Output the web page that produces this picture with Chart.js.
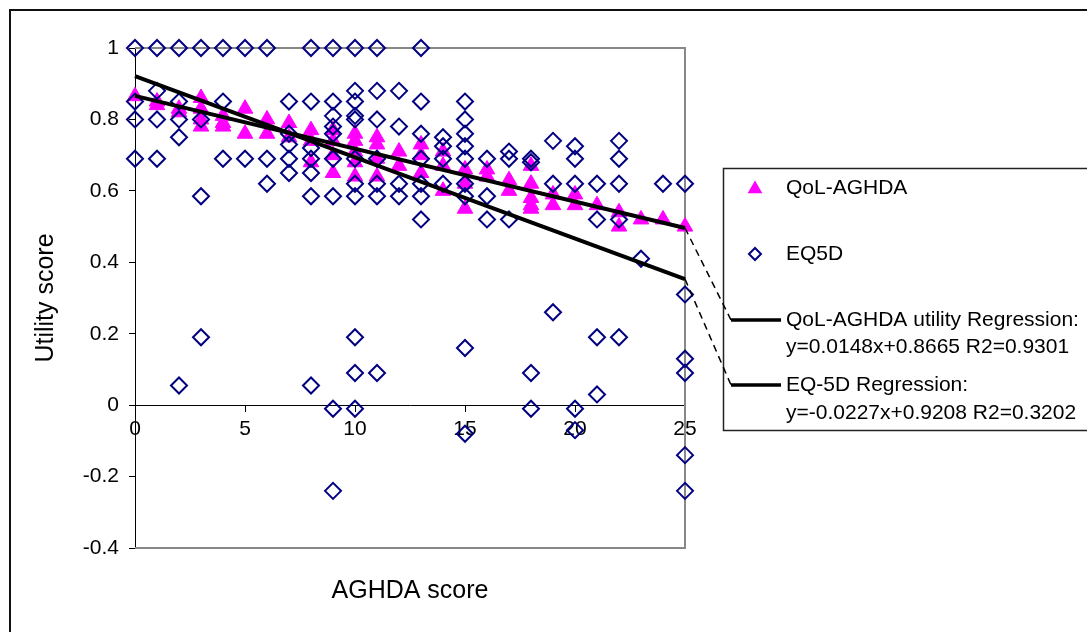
<!DOCTYPE html>
<html>
<head>
<meta charset="utf-8">
<script src="https://cdn.jsdelivr.net/npm/chart.js@4.4.1/dist/chart.umd.min.js"></script>
<style>
  html, body { margin: 0; padding: 0; background: #fff; }
  #wrap { width: 1087px; height: 632px; position: relative; }
</style>
</head>
<body>
<div id="wrap"><canvas id="myChart"></canvas></div>
<script>
// data

const qolX = [0, 1, 1, 2, 2, 3, 3, 3, 3, 4, 4, 4, 5, 5, 6, 6, 7, 7, 8, 8, 8,
  9, 9, 9, 9, 10, 10, 10, 10, 10, 11, 11, 11, 11, 12, 12, 13, 13, 13,
  14, 14, 14, 15, 15, 15, 16, 16, 17, 17, 18, 18, 18, 18, 18,
  19, 19, 20, 20, 21, 22, 22, 23, 24, 25]
const qolY = [0.865, 0.85, 0.84, 0.83, 0.82, 0.86, 0.83, 0.80, 0.78, 0.81, 0.79, 0.78, 0.83, 0.76, 0.80, 0.76, 0.79, 0.75, 0.77, 0.74, 0.68,
  0.77, 0.74, 0.70, 0.65, 0.76, 0.74, 0.71, 0.68, 0.64, 0.75, 0.73, 0.69, 0.64, 0.71, 0.67, 0.73, 0.70, 0.65,
  0.71, 0.67, 0.60, 0.66, 0.62, 0.55, 0.66, 0.64, 0.63, 0.60, 0.67, 0.62, 0.58, 0.56, 0.55,
  0.59, 0.56, 0.59, 0.56, 0.56, 0.54, 0.50, 0.52, 0.52, 0.50]

const eqX = [0, 0, 0, 0, 1, 1, 1, 1, 2, 2, 2, 2, 2, 3, 3, 3, 3, 4, 4, 4, 5, 5, 6, 6, 6,
  7, 7, 7, 7, 7, 8, 8, 8, 8, 8, 8, 8, 9, 9, 9, 9, 9, 9, 9, 9, 9,
  10, 10, 10, 10, 10, 10, 10, 10, 10, 10, 10, 11, 11, 11, 11, 11, 11, 11,
  12, 12, 12, 12, 13, 13, 13, 13, 13, 13, 13, 14, 14, 14, 14,
  15, 15, 15, 15, 15, 15, 15, 15, 15, 16, 16, 16, 17, 17, 17, 18, 18, 18, 18,
  19, 19, 19, 20, 20, 20, 20, 20, 21, 21, 21, 21, 22, 22, 22, 22, 22, 23, 24,
  25, 25, 25, 25, 25, 25]
const eqY = [1, 0.85, 0.80, 0.69, 1, 0.88, 0.80, 0.69, 1, 0.85, 0.80, 0.75, 0.055, 1, 0.80, 0.585, 0.19, 1, 0.85, 0.69, 1, 0.69, 1, 0.69, 0.62,
  0.85, 0.76, 0.73, 0.69, 0.65, 1, 0.85, 0.72, 0.69, 0.65, 0.585, 0.055, 1, 0.85, 0.81, 0.78, 0.76, 0.69, 0.585, -0.01, -0.24,
  1, 0.88, 0.85, 0.81, 0.80, 0.69, 0.62, 0.585, 0.19, 0.09, -0.01, 1, 0.88, 0.80, 0.69, 0.62, 0.585, 0.09,
  0.88, 0.78, 0.62, 0.585, 1, 0.85, 0.76, 0.69, 0.62, 0.585, 0.52, 0.75, 0.725, 0.69, 0.62,
  0.85, 0.80, 0.76, 0.725, 0.69, 0.62, 0.585, 0.16, -0.08, 0.69, 0.585, 0.52, 0.71, 0.69, 0.52, 0.69, 0.68, 0.09, -0.01,
  0.74, 0.62, 0.26, 0.725, 0.69, 0.62, -0.01, -0.07, 0.62, 0.52, 0.19, 0.03, 0.74, 0.69, 0.62, 0.52, 0.19, 0.41, 0.62,
  0.62, 0.31, 0.13, 0.09, -0.14, -0.24]

// regression lines, ends at x=0 and x=25
const trendX = [0, 25]
const qolTrendY = [0.866, 0.496]
const eqTrendY = [0.921, 0.353]

const legendNames = ['QoL-AGHDA', 'EQ5D']
const trendLabels = [
  ['QoL-AGHDA utility Regression:', 'y=0.0148x+0.8665 R2=0.9301'],
  ['EQ-5D Regression:', 'y=-0.0227x+0.9208 R2=0.3202']
]
const xTitle = 'AGHDA score'
const yTitle = 'Utility score'

const toPoints = (xs, ys) => xs.map((x, i) => ({x: x, y: ys[i]}))

const FONT = '"Liberation Sans", Arial, sans-serif'
const MAGENTA = '#ff00ff'
const NAVY = '#000080'

// draws frame, legend, x title and leader lines
const extras = {
  id: 'extras',
  beforeDraw(chart) {
    const ctx = chart.ctx
    ctx.save()
    ctx.strokeStyle = '#111'
    ctx.lineWidth = 2
    ctx.beginPath()
    ctx.moveTo(10, 700)
    ctx.lineTo(10, 10)
    ctx.lineTo(1200, 10)
    ctx.stroke()
    ctx.restore()
  },
  beforeDatasetsDraw(chart) {
    const {ctx, chartArea: a} = chart
    ctx.save()
    ctx.strokeStyle = '#888'
    ctx.lineWidth = 2
    ctx.beginPath()
    ctx.moveTo(a.left, a.top)
    ctx.lineTo(a.right, a.top)
    ctx.lineTo(a.right, a.bottom)
    ctx.lineTo(a.left, a.bottom)
    ctx.stroke()
    ctx.restore()
  },
  afterDraw(chart) {
    const {ctx, chartArea: a, scales} = chart
    ctx.save()
    // x axis title
    ctx.fillStyle = '#000'
    ctx.font = '25px ' + FONT
    ctx.textAlign = 'center'
    ctx.textBaseline = 'middle'
    ctx.fillText(xTitle, (a.left + a.right) / 2, 591)

    // legend box
    ctx.strokeStyle = '#222'
    ctx.lineWidth = 1.5
    ctx.strokeRect(723.5, 168.5, 420, 262)

    // markers
    ctx.fillStyle = MAGENTA
    ctx.beginPath()
    const r = 8.5
    ctx.moveTo(755, 189 - r)
    ctx.lineTo(755 + r * Math.sin(2 * Math.PI / 3), 189 + r / 2)
    ctx.lineTo(755 - r * Math.sin(2 * Math.PI / 3), 189 + r / 2)
    ctx.closePath()
    ctx.fill()
    ctx.strokeStyle = NAVY
    ctx.lineWidth = 2
    ctx.beginPath()
    ctx.moveTo(749, 254); ctx.lineTo(755, 248); ctx.lineTo(761, 254); ctx.lineTo(755, 260)
    ctx.closePath()
    ctx.stroke()

    ctx.fillStyle = '#000'
    ctx.font = '21px ' + FONT
    ctx.textAlign = 'left'
    ctx.fillText(legendNames[0], 786, 188)
    ctx.fillText(legendNames[1], 786, 254)

    // regression samples and texts
    const rows = [[320, 347], [385, 413]]
    const ends = [qolTrendY[1], eqTrendY[1]]
    rows.forEach((row, i) => {
      ctx.strokeStyle = '#000'
      ctx.lineWidth = 3.5
      ctx.setLineDash([])
      ctx.beginPath()
      ctx.moveTo(731, row[0])
      ctx.lineTo(781, row[0])
      ctx.stroke()
      ctx.fillText(trendLabels[i][0], 786, row[0])
      ctx.fillText(trendLabels[i][1], 786, row[1])
      // dashed leader from the end of the regression line
      ctx.lineWidth = 1.5
      ctx.setLineDash([7, 5])
      ctx.beginPath()
      ctx.moveTo(scales.x.getPixelForValue(trendX[1]), scales.y.getPixelForValue(ends[i]))
      ctx.lineTo(731, row[0])
      ctx.stroke()
    })
    ctx.restore()
  }
}

new Chart(document.getElementById('myChart'), {
  type: 'scatter',
  data: {
    datasets: [
      {
        label: 'QoL-AGHDA utility Regression',
        data: toPoints(trendX, qolTrendY),
        showLine: true,
        borderColor: '#000',
        borderWidth: 4,
        pointRadius: 0,
        order: 0,
        clip: false
      },
      {
        label: 'EQ-5D Regression',
        data: toPoints(trendX, eqTrendY),
        showLine: true,
        borderColor: '#000',
        borderWidth: 4,
        pointRadius: 0,
        order: 0,
        clip: false
      },
      {
        label: 'EQ5D',
        data: toPoints(eqX, eqY),
        pointStyle: 'rectRot',
        pointRadius: 8,
        pointHoverRadius: 8,
        borderColor: NAVY,
        borderWidth: 2,
        backgroundColor: 'rgba(0,0,0,0)',
        order: 1,
        clip: false
      },
      {
        label: 'QoL-AGHDA',
        data: toPoints(qolX, qolY),
        pointStyle: 'triangle',
        pointRadius: 9,
        pointHoverRadius: 9,
        borderWidth: 1,
        borderColor: MAGENTA,
        backgroundColor: MAGENTA,
        order: 2,
        clip: false
      }
    ]
  },
  options: {
    responsive: true,
    maintainAspectRatio: false,
    animation: false,
    events: [],
    layout: {
      padding: {left: 0, top: 48, right: 402, bottom: 84}
    },
    scales: {
      x: {
        type: 'linear',
        position: {y: 0},
        min: 0,
        max: 25,
        afterFit: (s) => { s.height = 0 },
        ticks: {
          stepSize: 5,
          color: '#000',
          padding: 5,
          maxRotation: 0,
          font: {family: FONT, size: 21}
        },
        grid: {
          display: true,
          drawOnChartArea: false,
          drawTicks: true,
          tickLength: 6,
          color: '#000'
        },
        border: {display: true, color: '#000', width: 1}
      },
      y: {
        min: -0.4,
        max: 1,
        afterFit: (s) => { s.width = 135 },
        ticks: {
          stepSize: 0.2,
          color: '#000',
          padding: 10,
          font: {family: FONT, size: 21},
          callback: (v) => String(Math.round(v * 10) / 10)
        },
        grid: {
          display: true,
          drawOnChartArea: false,
          drawTicks: true,
          tickLength: 6,
          color: '#000'
        },
        border: {display: true, color: '#000', width: 1},
        title: {
          display: true,
          text: yTitle,
          color: '#000',
          font: {family: FONT, size: 25},
          padding: {top: 31, bottom: 0}
        }
      }
    },
    plugins: {
      legend: {display: false},
      tooltip: {enabled: false}
    }
  },
  plugins: [extras]
})
</script>
</body>
</html>
